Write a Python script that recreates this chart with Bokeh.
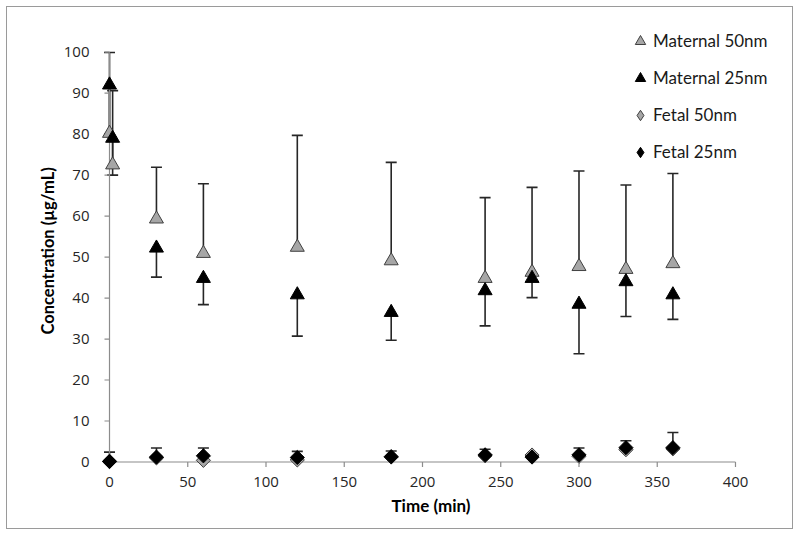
import math
from bokeh.plotting import figure
from bokeh.models import (ColumnDataSource, Range1d, Whisker, TeeHead, Legend,
                          LegendItem, FixedTicker, Title)
from bokeh.embed import file_html
from bokeh.resources import INLINE

# ---- data ----
time_maternal = [0, 2, 30, 60, 120, 180, 240, 270, 300, 330, 360]
maternal_50 = [80.2, 72.5, 59.3, 50.9, 52.4, 49.1, 44.8, 46.3, 47.7, 47.0, 48.4]
maternal_50_upper = [99.9, 90.6, 71.9, 67.9, 79.7, 73.1, 64.5, 67.0, 71.0, 67.6, 70.4]
maternal_25 = [92.0, 79.0, 52.2, 44.8, 40.8, 36.5, 41.8, 44.8, 38.5, 44.0, 40.8]
maternal_25_lower = [80.0, 70.0, 45.1, 38.4, 30.7, 29.7, 33.2, 40.1, 26.4, 35.5, 34.8]

time_fetal = [0, 30, 60, 120, 180, 240, 270, 300, 330, 360]
fetal_50 = [0.2, 1.0, 0.4, 0.5, 1.2, 1.5, 1.7, 1.4, 3.0, 3.2]
fetal_25 = [0.1, 1.2, 1.5, 1.1, 1.3, 1.75, 1.2, 1.75, 3.5, 3.5]
fetal_25_upper = [2.4, 3.4, 3.4, 2.6, 2.7, 3.1, 1.9, 3.4, 5.2, 7.2]

x_ticks = [0, 50, 100, 150, 200, 250, 300, 350, 400]
y_ticks = [0, 10, 20, 30, 40, 50, 60, 70, 80, 90, 100]

series_names = ["Maternal 50nm", "Maternal 25nm", "Fetal 50nm", "Fetal 25nm"]
x_title = "Time (min)"
y_title = "Concentration (µg/mL)"

FONT = "Lato"
TICK_FONT = "Open Sans"
GRAY_FILL = "#a6a6a6"
EDGE = "#404040"
BAR = "#262626"
AXIS = "#8c8c8c"

# frame geometry (pixels) and ranges slightly wider than the axes so markers at 0 are whole
W, H = 787, 523
BL, BR, BT, BB = 90, 13, 18, 54
X0, X1 = -7.67, 429.4
Y0, Y1 = -3.54, 106.5
px_x = (W - BL - BR) / (X1 - X0)
px_y = (H - BT - BB) / (Y1 - Y0)
TICK = 5  # tick length in pixels

src_m = ColumnDataSource(dict(t=time_maternal, m50=maternal_50, m50u=maternal_50_upper,
                              m25=maternal_25, m25l=maternal_25_lower))
src_f = ColumnDataSource(dict(t=time_fetal, f50=fetal_50, f25=fetal_25, f25u=fetal_25_upper))

p = figure(width=W, height=H, output_backend="svg", toolbar_location=None,
           x_range=Range1d(X0, X1), y_range=Range1d(Y0, Y1),
           min_border_left=BL, min_border_right=BR, min_border_top=BT, min_border_bottom=BB)
p.styles = {"border": "1px solid #9a9a9a", "margin-left": "6px", "margin-top": "6px"}

p.xgrid.visible = False
p.ygrid.visible = False
p.outline_line_color = None
p.background_fill_color = "white"
p.border_fill_color = "white"

for ax, ticks, standoff in ((p.xaxis, x_ticks, 0), (p.yaxis, y_ticks, 8)):
    ax.ticker = FixedTicker(ticks=ticks)
    ax.axis_line_color = None
    ax.major_tick_line_color = None
    ax.major_tick_out = 0
    ax.major_tick_in = 0
    ax.minor_tick_line_color = None
    ax.major_label_text_font = TICK_FONT
    ax.major_label_text_font_size = "15px"
    ax.major_label_text_color = "#262626"
    ax.major_label_standoff = standoff

# axis lines and tick marks at the data origin
p.segment(x0=[x_ticks[0], x_ticks[0]], y0=[y_ticks[0], y_ticks[0]],
          x1=[x_ticks[0], x_ticks[-1]], y1=[y_ticks[-1], y_ticks[0]],
          line_color=AXIS, line_width=1.2)
p.segment(x0=[x_ticks[0]] * len(y_ticks), y0=y_ticks,
          x1=[x_ticks[0] - TICK / px_x] * len(y_ticks), y1=y_ticks,
          line_color=AXIS, line_width=1.2)
p.segment(x0=x_ticks, y0=[y_ticks[0]] * len(x_ticks),
          x1=x_ticks, y1=[y_ticks[0] - TICK / px_y] * len(x_ticks),
          line_color=AXIS, line_width=1.2)

# error bars
p.add_layout(Whisker(source=src_m, base="t", lower="m50", upper="m50u", dimension="height",
                     line_color=BAR, line_width=1.6,
                     upper_head=TeeHead(size=11, line_color=BAR, line_width=1.6), lower_head=None))
p.add_layout(Whisker(source=src_m, base="t", lower="m25l", upper="m25", dimension="height",
                     line_color=BAR, line_width=1.6,
                     lower_head=TeeHead(size=11, line_color=BAR, line_width=1.6), upper_head=None))
p.add_layout(Whisker(source=src_f, base="t", lower="f25", upper="f25u", dimension="height",
                     line_color=BAR, line_width=1.6,
                     upper_head=TeeHead(size=11, line_color=BAR, line_width=1.6), lower_head=None))

r1 = p.scatter("t", "m50", source=src_m, marker="triangle", size=14,
               fill_color=GRAY_FILL, line_color=EDGE, line_width=1)
r2 = p.scatter("t", "m25", source=src_m, marker="triangle", size=14,
               fill_color="black", line_color="black", line_width=1)
r3 = p.scatter("t", "f50", source=src_f, marker="square", angle=math.pi / 4, size=10,
               fill_color=GRAY_FILL, line_color=EDGE, line_width=1)
r4 = p.scatter("t", "f25", source=src_f, marker="square", angle=math.pi / 4, size=10,
               fill_color="black", line_color="black", line_width=1)

# hidden diamond renderers used only for the legend keys of the fetal series
d3 = p.scatter("t", "f50", source=src_f, marker="diamond", fill_color=GRAY_FILL,
               line_color=EDGE, line_width=1, visible=False)
d4 = p.scatter("t", "f25", source=src_f, marker="diamond", fill_color="black",
               line_color="black", line_width=1, visible=False)

legend = Legend(items=[LegendItem(label=n, renderers=[r]) for n, r in zip(series_names, [r1, r2, d3, d4])],
                location=(530, 309.5), padding=0, margin=0, spacing=7,
                glyph_width=26, glyph_height=30, label_height=30, label_standoff=0,
                label_text_font=FONT, label_text_font_size="17px", label_text_color="#1a1a1a",
                border_line_alpha=0, background_fill_alpha=0)
p.add_layout(legend)

p.add_layout(Title(text=x_title, align="left", offset=294, vertical_align="middle",
                   text_font=FONT, text_font_style="bold", text_font_size="17px",
                   text_color="black", standoff=9), "below")
p.add_layout(Title(text=y_title, align="left", offset=142, vertical_align="middle",
                   text_font=FONT, text_font_style="bold", text_font_size="16.5px",
                   text_color="black", standoff=4), "left")

open("out.html", "w").write(file_html(p, INLINE))
